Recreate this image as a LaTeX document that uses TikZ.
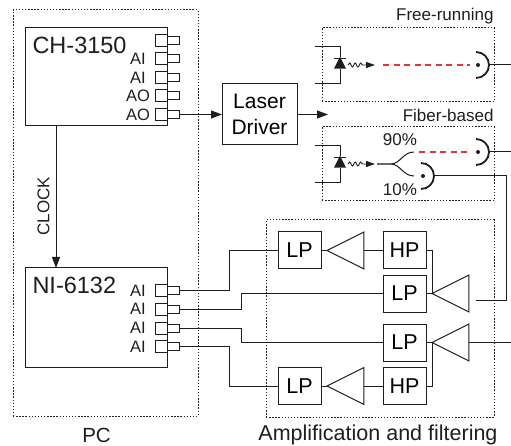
\documentclass[tikz,border=0pt]{standalone}
\usepackage{fontspec}
\setmainfont{Liberation Sans}
\usetikzlibrary{arrows.meta, positioning, shapes.geometric, calc, decorations.pathmorphing}
\definecolor{cink}{HTML}{1E1E1E}
\definecolor{cred}{HTML}{E8323C}
\definecolor{cgrey}{HTML}{6B6B6B}
\tikzset{
  every picture/.style={line width=1pt, x=1pt, y=-1pt},
  wire/.style={draw=cink, line width=1pt},
  arrow/.style={-{Triangle[length=11pt,width=8pt]}, draw=cink, line width=1pt},
  beam/.style={draw=cred, dash pattern=on 6pt off 4.5pt, line width=1.1pt},
  frame/.style={draw=cink, line width=1pt, dash pattern=on 1.4pt off 1.7pt},
  box/.style={draw=cink, line width=1pt, inner sep=0pt, outer sep=0pt, font=\fontsize{#1}{#1}\selectfont, align=center},
  box/.default=21.5,
  filt/.style={box, minimum width=43pt, minimum height=37pt},
  amp/.style={draw=cink, isosceles triangle, isosceles triangle stretches, shape border rotate=180, minimum width=37pt, minimum height=37pt, inner sep=0pt, outer sep=0pt},
  portbig/.style={draw=cink, inner sep=0pt, outer sep=0pt, minimum width=12pt, minimum height=12pt},
  portsmall/.style={draw=cink, inner sep=0pt, outer sep=0pt, minimum width=12pt, minimum height=8pt},
  portlabel/.style={font=\fontsize{16.5}{16.5}\selectfont, text=cink, inner sep=0pt},
  cardlabel/.style={font=\fontsize{23.5}{23.5}\selectfont, text=cink, anchor=west, inner sep=0pt},
  caption/.style={font=\fontsize{21.5}{21.5}\selectfont, text=cink, inner sep=0pt},
  note/.style={font=\fontsize{17}{17}\selectfont, text=cink, inner sep=0pt},
  diode/.style={fill=cink, isosceles triangle, isosceles triangle stretches, shape border rotate=90, minimum width=12pt, minimum height=12pt, inner sep=0pt, outer sep=0pt},
  dot/.style={fill=cink, circle, minimum size=4pt, inner sep=0pt, outer sep=0pt},
}
\begin{document}
\begin{tikzpicture}
  \useasboundingbox (0,0) rectangle (511,446);
  % frames
  \node[frame, minimum width=185pt, minimum height=406pt, outer sep=0pt] (pc) at (105.5,213) {};
  \node[frame, minimum width=172pt, minimum height=74pt, outer sep=0pt] (free) at (408,65) {};
  \node[frame, minimum width=172pt, minimum height=74pt, outer sep=0pt] (fiber) at (408,164) {};
  \node[frame, minimum width=228pt, minimum height=197pt, outer sep=0pt] (filters) at (380,318.5) {};
  \node[caption, font=\fontsize{20.5}{20.5}\selectfont] (pclabel) at (96.5,435) {PC};
  \node[caption] (filterlabel) at (378,435) {Amplification and filtering};
  \node[note, anchor=east] (freelabel) at (494,16) {Free-running};
  \node[note, anchor=east] (fiberlabel) at (494,115) {Fiber-based};
  % cards
  \node[box, minimum width=142pt, minimum height=98pt] (ch) at (96,77) {};
  \node[box, minimum width=142pt, minimum height=99pt] (ni) at (96,317.5) {};
  \node[cardlabel] (chlabel) at (32,45) {CH-3150};
  \node[cardlabel] (nilabel) at (32,285) {NI-6132};
  \foreach \n/\y/\t in {1/40.5/, 2/59/AI, 3/77.5/AI, 4/96/AO, 5/114.5/AO}{
    \node[portbig] (chbig\n) at (161,\y) {};
    \node[portsmall] (chport\n) at (173,\y) {};
    \node[portlabel] (chtext\n) at (138,\y) {\t};
  }
  \foreach \n/\y in {1/290.5, 2/309, 3/328, 4/346.5}{
    \node[portbig] (nibig\n) at (161,\y) {};
    \node[portsmall] (niport\n) at (173,\y) {};
    \node[portlabel] (nitext\n) at (138,\y) {AI};
  }
  % clock and driver
  \draw[arrow] (ch.south -| 56,126) -- (ni.north -| 56,268);
  \node[note, rotate=90] (clock) at (43.5,206) {CLOCK};
  \node[box, minimum width=75pt, minimum height=61pt, font=\fontsize{21}{26}\selectfont] (driver) at (259.5,114.5) {Laser\\Driver};
  \draw[arrow] (chport5.east) -- (driver.west);
  \coordinate (driverout) at (328,114.5);
  \draw[arrow] (driver.east) -- (driverout);
  % lasers
  \foreach \n/\y in {a/65, b/164}{
    \coordinate (top\n) at (315,\y-18.5);
    \coordinate (bot\n) at (315,\y+18.5);
    \node[diode] (diode\n) at (340,\y) {};
    \draw[wire] (top\n) -- (340,\y-18.5) -- (diode\n.apex);
    \draw[wire] (bot\n) -- (340,\y+18.5) -- (diode\n.lower side);
    \draw[wire, line width=1.5pt] (334,\y-6.5) -- (346,\y-6.5);
    \coordinate (wave\n) at (348,\y);
    \coordinate (waveend\n) at (375,\y);
    \draw[wire, line width=0.9pt, -{Triangle[length=9pt,width=6pt]}, decorate, decoration={snake, amplitude=2pt, segment length=5.5pt, post length=10pt}] (wave\n) -- (waveend\n);
  }
  % detectors
  \foreach \n/\x/\y in {a/478/65, b/478/152, c/423/176}{
    \node[dot] (dot\n) at (\x,\y) {};
    \draw[cink, line width=1.8pt] (\x-2,\y-13) arc[start angle=90, end angle=-90, radius=13pt];
    \coordinate (det\n) at (\x+10.5,\y);
  }
  \coordinate (freeend) at (511,65);
  \coordinate (fiberend) at (511,152);
  \coordinate (beama) at (383,65);
  \coordinate (beamaend) at (470,65);
  \draw[beam] (beama) -- (beamaend);
  \draw[wire] (deta) -- (freeend);
  \draw[wire] (detb) -- (fiberend);
  % splitter
  \coordinate (stub) at (377,164);
  \coordinate (split) at (391,164);
  \coordinate (armup) at (414,152);
  \coordinate (armdown) at (414,176);
  \coordinate (beamb) at (419,152);
  \coordinate (beambend) at (471,152);
  \draw[draw=cgrey, line width=1.4pt] (stub) -- (split);
  \draw[wire] (split) .. controls (400,164) and (403,152) .. (armup);
  \draw[wire] (split) .. controls (400,164) and (403,176) .. (armdown);
  \draw[beam] (beamb) -- (beambend);
  \node[note] (ninety) at (400,140) {90\%};
  \node[note] (ten) at (400,190) {10\%};
  % filter rows
  \node[filt] (lpa) at (299.5,250.5) {LP};
  \node[amp] (ampa) at (352.5,250.5) {};
  \node[filt] (hpa) at (404.5,250.5) {HP};
  \node[filt] (lpb) at (404.5,293.5) {LP};
  \node[amp] (ampb) at (457.5,293.5) {};
  \node[filt] (lpc) at (404.5,342.5) {LP};
  \node[amp] (ampc) at (457.5,342.5) {};
  \node[filt] (hpd) at (404.5,386) {HP};
  \node[amp] (ampd) at (352.5,386) {};
  \node[filt] (lpd) at (299.5,386) {LP};
  \draw[wire] (lpa.east) -- (ampa.apex);
  \draw[wire] (ampa.lower side) -- (hpa.west);
  \draw[wire] (lpd.east) -- (ampd.apex);
  \draw[wire] (ampd.lower side) -- (hpd.west);
  \draw[wire] (lpb.east) -- (ampb.apex);
  \draw[wire] (lpc.east) -- (ampc.apex);
  \draw[wire] (hpa.east) -- (432,250.5) -- (432,293.5);
  \draw[wire] (hpd.east) -- (432,386) -- (432,342.5);
  % to the card
  \draw[wire] (niport1.east) -- (229,290.5) |- (lpa.west);
  \draw[wire] (niport2.east) -- (241,309) |- (lpb.west);
  \draw[wire] (niport3.east) -- (241,328) |- (lpc.west);
  \draw[wire] (niport4.east) -- (229,346.5) |- (lpd.west);
  \coordinate (ampbin) at (476,300);
  \coordinate (ampcin) at (511,342.5);
  \draw[wire] (detc) -- (506,176) -- (506,300) -- (ampbin);
  \draw[wire] (ampcin) -- (ampc.lower side);
\end{tikzpicture}
\end{document}
